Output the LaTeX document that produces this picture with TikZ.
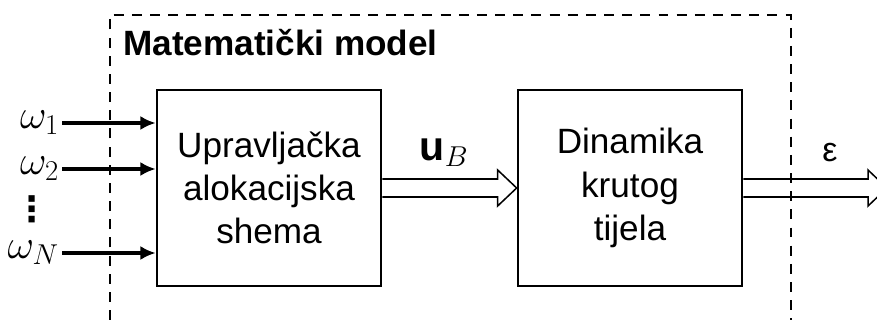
\RequirePackage{fix-cm}
\documentclass[tikz,border=0pt]{standalone}
\usepackage{fontspec}
\setmainfont{Liberation Sans}
\newfontfamily\symfont{DejaVu Sans}
\usetikzlibrary{arrows.meta,calc}

\tikzset{
  block/.style={draw, line width=2.3pt, minimum width=6.72cm, minimum height=5.88cm,
    align=center, font=\fontsize{30}{37}\selectfont},
  inarrow/.style={line width=3.4pt, -{Latex[length=13pt,width=12pt]}},
  hollow/.style={line width=1.3pt, line join=miter},
  frame/.style={line width=2pt, dash pattern=on 8.5pt off 7pt},
  lbl/.style={font=\fontsize{35}{40}\selectfont, inner sep=0pt}
}

\begin{document}
\begin{tikzpicture}[x=0.03cm, y=-0.03cm]

  % --- Page: 877 x 320 px, y grows downwards ---
  \useasboundingbox (0,0) rectangle (877,320);
  \clip (0,0) rectangle (877,320);

  % --- Dashed frame of the model, open at the bottom ---
  \draw[frame] (110,320) -- (110,15) -- (791,15) -- (791,320);
  \node[anchor=base west, inner sep=0pt, font=\fontsize{30}{36}\selectfont\bfseries]
    (title) at (123,56) {Matematički model};

  % --- The two blocks ---
  \node[block] (alloc) at (269,188) {Upravljačka\\alokacijska\\shema};
  \node[block] (rigid) at (630,188) {Dinamika\\krutog\\tijela};

  % --- Inputs omega_1 ... omega_N ---
  \node[lbl, anchor=east] (w1) at (59,123) {$\omega_1$};
  \node[lbl, anchor=east] (w2) at (59,169) {$\omega_2$};
  \node[inner sep=0pt, font=\fontsize{30}{30}\symfont\bfseries] (wdots) at (32,209) {⋮};
  \node[lbl, anchor=east] (wN) at (59,253) {$\omega_N$};
  \foreach \w in {w1,w2,wN}
    \draw[inarrow] ($(\w.east)+(3,0)$) -- (\w.east -| alloc.west);

  % --- Hollow arrow u_B between the blocks ---
  \draw[hollow] ($(alloc.east)+(0,-9)$) -- ($(rigid.west)+(-19,-9)$)
    -- ($(rigid.west)+(-19,-18)$) -- (rigid.west) -- ($(rigid.west)+(-19,18)$)
    -- ($(rigid.west)+(-19,9)$) -- ($(alloc.east)+(0,9)$);
  \node[lbl] (uB) at (444,153) {$\mathbf{u}_B$};

  % --- Output arrow epsilon, running off the page ---
  \coordinate (out) at (887,188);
  \draw[hollow] ($(rigid.east)+(0,-9)$) -- ($(out)+(-19,-9)$)
    -- ($(out)+(-19,-18)$) -- (out) -- ($(out)+(-19,18)$)
    -- ($(out)+(-19,9)$) -- ($(rigid.east)+(0,9)$);
  \node[inner sep=0pt, font=\fontsize{29}{36}\selectfont] (eps) at (830,153) {ε};

\end{tikzpicture}
\end{document}
